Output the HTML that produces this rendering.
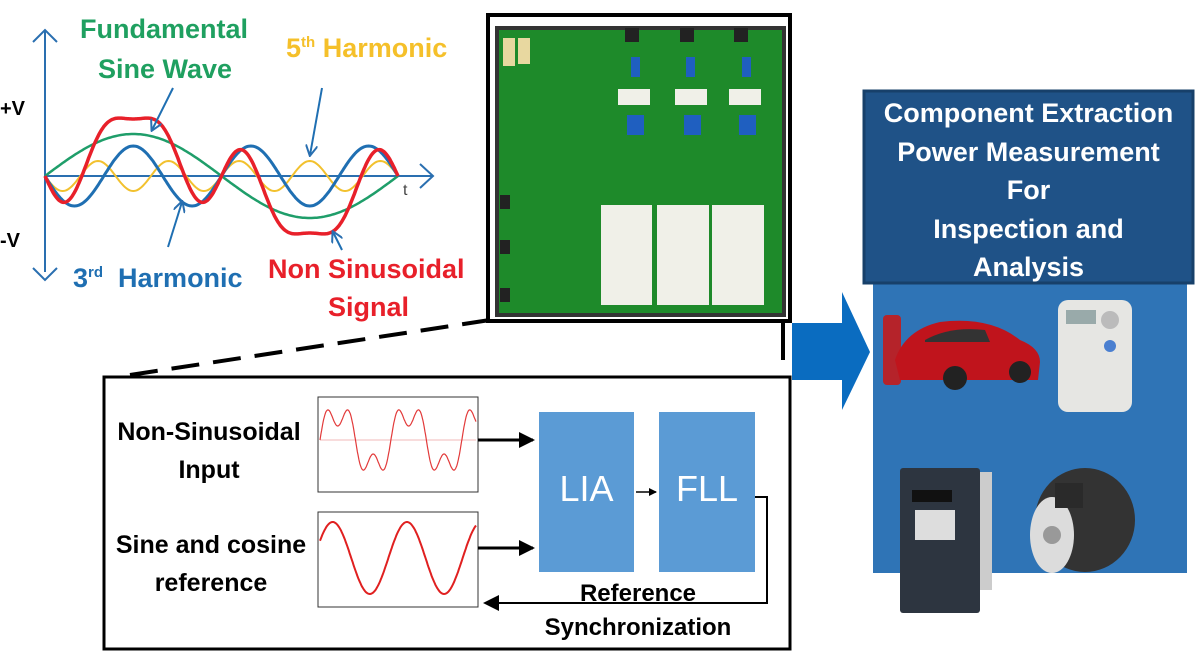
<!DOCTYPE html>
<html><head><meta charset="utf-8"><style>
body{margin:0;width:1200px;height:655px;background:#fff;overflow:hidden;position:relative;font-family:"Liberation Sans",sans-serif}
.t{position:absolute;font-weight:bold;white-space:nowrap;font-family:"Liberation Sans",sans-serif}
</style></head><body>
<svg width="1200" height="655" style="position:absolute;left:0;top:0">
<defs>
<marker id="ah" markerWidth="8" markerHeight="8" refX="7" refY="4" orient="auto" markerUnits="userSpaceOnUse"><path d="M0,0 L8,4 L0,8z" fill="#000"/></marker>
<marker id="ahb" markerWidth="16" markerHeight="16" refX="14" refY="8" orient="auto" markerUnits="userSpaceOnUse"><path d="M0,0 L16,8 L0,16z" fill="#000"/></marker>
<marker id="blu" markerWidth="12" markerHeight="12" refX="10" refY="6" orient="auto" markerUnits="userSpaceOnUse"><path d="M0,0 L11,6 L0,12" fill="none" stroke="#2a6fb0" stroke-width="2"/></marker>
</defs>
<line x1="45" y1="272" x2="45" y2="30" stroke="#2a6fb0" stroke-width="2"/>
<polyline points="33,42 45,30 57,42" fill="none" stroke="#2a6fb0" stroke-width="2"/>
<polyline points="33,268 45,280 57,268" fill="none" stroke="#2a6fb0" stroke-width="2"/>
<line x1="45" y1="176" x2="433" y2="176" stroke="#2a6fb0" stroke-width="2"/>
<polyline points="420,164 433,176 420,188" fill="none" stroke="#2a6fb0" stroke-width="2"/>
<path id="w5" fill="none" stroke="#f2c12e" stroke-width="2"/>
<path id="w1" fill="none" stroke="#1f9e6a" stroke-width="2.5"/>
<path id="w3" fill="none" stroke="#1f6fb2" stroke-width="3"/>
<path id="wr" fill="none" stroke="#e8202a" stroke-width="3.5"/>
<line x1="173" y1="88" x2="152" y2="130" stroke="#1f6fb2" stroke-width="2" marker-end="url(#blu)"/>
<line x1="322" y1="88" x2="310" y2="155" stroke="#1f6fb2" stroke-width="2" marker-end="url(#blu)"/>
<line x1="168" y1="247" x2="182" y2="202" stroke="#1f6fb2" stroke-width="2" marker-end="url(#blu)"/>
<line x1="342" y1="250" x2="333" y2="232" stroke="#1f6fb2" stroke-width="2" marker-end="url(#blu)"/>
<line x1="130" y1="375" x2="490" y2="320" stroke="#000" stroke-width="4" stroke-dasharray="28,14"/>
<rect x="488" y="15" width="302" height="306" fill="#fff" stroke="#000" stroke-width="4"/>
<rect x="497" y="28" width="287" height="287" fill="#1e8a2a"/>
<rect x="497" y="28" width="287" height="287" fill="none" stroke="#333" stroke-width="4"/>
<rect x="503" y="38" width="12" height="28" fill="#e8d8a0"/><rect x="518" y="38" width="12" height="26" fill="#e8d8a0"/>
<g fill="#1f5fc0"><rect x="631" y="57" width="9" height="20"/><rect x="686" y="57" width="9" height="20"/><rect x="742" y="57" width="9" height="20"/>
<rect x="627" y="115" width="17" height="20"/><rect x="684" y="115" width="17" height="20"/><rect x="739" y="115" width="17" height="20"/></g>
<g fill="#f0f0e8"><rect x="618" y="89" width="32" height="16"/><rect x="675" y="89" width="32" height="16"/><rect x="729" y="89" width="32" height="16"/>
<rect x="601" y="205" width="51" height="100"/><rect x="657" y="205" width="52" height="100"/><rect x="712" y="205" width="52" height="100"/></g>
<g fill="#222"><rect x="625" y="28" width="14" height="14"/><rect x="680" y="28" width="14" height="14"/><rect x="734" y="28" width="14" height="14"/><rect x="500" y="195" width="10" height="14"/><rect x="500" y="240" width="10" height="14"/><rect x="500" y="288" width="10" height="14"/></g>
<line x1="783" y1="322" x2="783" y2="360" stroke="#000" stroke-width="4"/>
<path d="M792,323 H842 V292 L870,352 L842,410 V380 H792z" fill="#0a6cc0"/>
<rect x="873" y="283" width="314" height="290" fill="#2f74b6"/>
<rect x="864" y="91" width="329" height="192" fill="#1f5287" stroke="#17406a" stroke-width="3"/>
<rect x="883" y="315" width="18" height="70" rx="4" fill="#b5232a"/>
<path d="M895,360 Q905,330 940,322 Q990,316 1020,340 Q1040,348 1040,362 L1038,380 H900z" fill="#c0141c"/>
<circle cx="955" cy="378" r="12" fill="#222"/><circle cx="1020" cy="372" r="11" fill="#222"/>
<path d="M925,340 Q950,326 985,330 L990,342 H925z" fill="#333"/>
<rect x="1058" y="300" width="74" height="112" rx="10" fill="#e6e6e3"/>
<rect x="1066" y="310" width="30" height="14" fill="#9aa"/><circle cx="1110" cy="320" r="9" fill="#bbb"/><circle cx="1110" cy="346" r="6" fill="#4a7fd0"/>
<rect x="900" y="468" width="80" height="145" rx="3" fill="#2d3540"/><rect x="980" y="472" width="12" height="118" fill="#ccc"/>
<rect x="912" y="490" width="40" height="12" fill="#111"/><rect x="915" y="510" width="40" height="30" fill="#ddd"/>
<ellipse cx="1085" cy="520" rx="50" ry="52" fill="#333"/><ellipse cx="1052" cy="535" rx="22" ry="38" fill="#dcdcdc"/><circle cx="1052" cy="535" r="9" fill="#999"/><rect x="1055" y="483" width="28" height="25" fill="#2a2a2a"/>
<rect x="104" y="377" width="686" height="272" fill="#fff" stroke="#000" stroke-width="3"/>
<rect x="318" y="397" width="160" height="95" fill="#fff" stroke="#333" stroke-width="1"/>
<rect x="318" y="512" width="160" height="95" fill="#fff" stroke="#333" stroke-width="1"/>
<line x1="320" y1="440" x2="476" y2="440" stroke="#f2b8b8" stroke-width="1"/>
<path id="ns" fill="none" stroke="#e23a3a" stroke-width="1.2"/>
<path id="sc" fill="none" stroke="#e02020" stroke-width="2"/>
<rect x="539" y="412" width="95" height="160" fill="#5b9bd5"/>
<rect x="659" y="412" width="96" height="160" fill="#5b9bd5"/>
<line x1="478" y1="440" x2="533" y2="440" stroke="#000" stroke-width="3" marker-end="url(#ahb)"/>
<line x1="478" y1="548" x2="533" y2="548" stroke="#000" stroke-width="3" marker-end="url(#ahb)"/>
<line x1="636" y1="492" x2="656" y2="492" stroke="#000" stroke-width="1.5" marker-end="url(#ah)"/>
<polyline points="755,497 767,497 767,603 485,603" fill="none" stroke="#000" stroke-width="2" marker-end="url(#ahb)"/>
</svg>
<div class="t" style="left:80px;top:14px;font-size:27px;color:#1fa060">Fundamental</div>
<div class="t" style="left:98px;top:54px;font-size:27px;color:#1fa060">Sine Wave</div>
<div class="t" style="left:286px;top:33px;font-size:27px;color:#f5c02a">5<sup style="font-size:15px">th</sup> Harmonic</div>
<div class="t" style="left:0;top:98px;font-size:20px;color:#000">+V</div>
<div class="t" style="left:0;top:230px;font-size:20px;color:#000">-V</div>
<div class="t" style="left:403px;top:182px;font-size:16px;color:#444;font-weight:normal">t</div>
<div class="t" style="left:73px;top:263px;font-size:27px;color:#1f6fb2">3<sup style="font-size:15px">rd</sup>&nbsp; Harmonic</div>
<div class="t" style="left:268px;top:254px;font-size:27px;color:#e8202a">Non Sinusoidal</div>
<div class="t" style="left:328px;top:292px;font-size:27px;color:#e8202a">Signal</div>
<div class="t" style="left:862px;top:94px;width:333px;text-align:center;font-size:27px;line-height:38.5px;color:#fff">Component Extraction<br>Power Measurement<br>For<br>Inspection and<br>Analysis</div>
<div class="t" style="left:104px;top:413px;width:210px;text-align:center;font-size:25px;line-height:38px;color:#000">Non-Sinusoidal<br>Input</div>
<div class="t" style="left:104px;top:526px;width:214px;text-align:center;font-size:25px;line-height:38px;color:#000">Sine and cosine<br>reference</div>
<div class="t" style="left:539px;top:468px;width:95px;text-align:center;font-size:36px;color:#fff;font-weight:normal">LIA</div>
<div class="t" style="left:659px;top:468px;width:96px;text-align:center;font-size:36px;color:#fff;font-weight:normal">FLL</div>
<div class="t" style="left:538px;top:577px;width:200px;text-align:center;font-size:24px;line-height:34px;color:#000">Reference<br>Synchronization</div>
<script>
function mk(f,x0,x1,n){let d="";for(let i=0;i<=n;i++){let x=x0+(x1-x0)*i/n;d+=(i?"L":"M")+x.toFixed(1)+","+f(x).toFixed(1);}return d;}
const P=2*Math.PI,X0=45,W=353;
const T=x=>(x-X0)/W;
const f1=x=>42*Math.sin(P*T(x)),f3=x=>-30*Math.sin(3*P*T(x)),f5=x=>-15*Math.sin(5*P*T(x));
document.getElementById("w1").setAttribute("d",mk(x=>176-f1(x),45,398,200));
document.getElementById("w3").setAttribute("d",mk(x=>176-f3(x),45,398,300));
document.getElementById("w5").setAttribute("d",mk(x=>176-f5(x),45,398,300));
document.getElementById("wr").setAttribute("d",mk(x=>176-f1(x)-f3(x)-f5(x),45,398,300));
document.getElementById("ns").setAttribute("d",mk(x=>{let t=(x-320)/156*2.2;return 440-28*Math.sin(P*t)-14*Math.sin(3*P*t)},320,476,300));
document.getElementById("sc").setAttribute("d",mk(x=>{let t=(x-320)/156*2.1;return 558-36*Math.sin(P*t+0.5)},320,476,200));
</script>
</body></html>
